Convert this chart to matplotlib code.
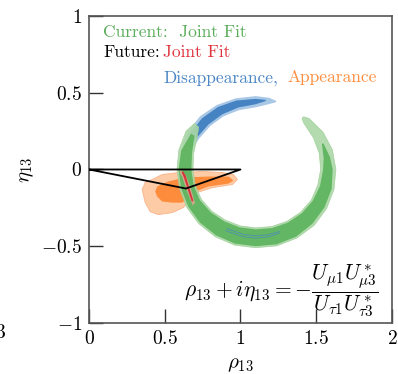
"""
Ring of allowed (rho13, eta13) from the current joint fit, with the
future disappearance / appearance regions and the unitarity triangle.
"""

import numpy as np
import matplotlib
matplotlib.use('Agg')
import matplotlib.pyplot as plt
from matplotlib.patches import Polygon

plt.rcParams['mathtext.fontset'] = 'cm'
plt.rcParams['font.family'] = ['cmr10', 'DejaVu Serif']

# ring geometry (centre of the circle and x stretch)
CX, CY, SX = 1.10, 0.0, 1.06

# current joint fit, light band (angle in degrees, inner / outer radius)
green_lo_ang = [49, 45, 30, 15, 0, -15, -30, -45, -60, -75, -90, -105, -120,
                -135, -150, -165, -180, -195, -210, -218]
green_lo_rin = [0.44, 0.425, 0.415, 0.41, 0.405, 0.40, 0.40, 0.395, 0.39, 0.385,
                0.38, 0.38, 0.38, 0.385, 0.39, 0.39, 0.39, 0.40, 0.42, 0.45]
green_lo_rout = [0.455, 0.47, 0.485, 0.495, 0.50, 0.505, 0.51, 0.515, 0.515, 0.515,
                 0.51, 0.51, 0.505, 0.50, 0.495, 0.49, 0.49, 0.495, 0.50, 0.485]

# current joint fit, dark band
green_hi_ang = [22, 10, 0, -15, -30, -45, -60, -75, -90, -105, -120, -135,
                -150, -165, -180, -195, -210]
green_hi_rin = [0.445, 0.43, 0.42, 0.415, 0.41, 0.405, 0.40, 0.395, 0.39, 0.39,
                0.39, 0.395, 0.40, 0.40, 0.40, 0.41, 0.44]
green_hi_rout = [0.455, 0.47, 0.48, 0.49, 0.495, 0.50, 0.505, 0.505, 0.50, 0.50,
                 0.495, 0.49, 0.485, 0.48, 0.48, 0.48, 0.465]

# future disappearance, light and dark band
blue_lo_ang = [74, 80, 90, 105, 120, 135, 150, 160, 166]
blue_lo_rin = [0.455, 0.43, 0.405, 0.40, 0.40, 0.40, 0.405, 0.415, 0.44]
blue_lo_rout = [0.465, 0.475, 0.478, 0.48, 0.485, 0.49, 0.49, 0.485, 0.46]
blue_hi_ang = [82, 90, 105, 120, 135, 150, 160]
blue_hi_rin = [0.45, 0.425, 0.418, 0.415, 0.415, 0.42, 0.44]
blue_hi_rout = [0.458, 0.46, 0.465, 0.47, 0.472, 0.472, 0.458]

# faint disappearance contours seen through the bottom of the ring
blue_line_ang = [-115, -100, -90, -80, -70]
blue_line_r1 = [0.425, 0.43, 0.432, 0.432, 0.43]
blue_line_r2 = [0.44, 0.445, 0.447, 0.446, 0.44]

# future appearance region (outer and inner contour)
orange_lo_x = [0.391, 0.483, 0.589, 0.748, 0.881, 0.954, 0.980, 0.947, 0.815,
               0.715, 0.669, 0.623, 0.550, 0.457, 0.404, 0.371, 0.351, 0.371]
orange_lo_y = [-0.078, -0.033, -0.020, -0.013, -0.020, -0.033, -0.065, -0.098, -0.118,
               -0.150, -0.196, -0.248, -0.281, -0.294, -0.275, -0.216, -0.131, -0.085]
orange_hi_x = [0.437, 0.450, 0.523, 0.636, 0.788, 0.921, 0.954, 0.921, 0.788,
               0.702, 0.656, 0.616, 0.550, 0.483, 0.450]
orange_hi_y = [-0.144, -0.111, -0.078, -0.052, -0.046, -0.046, -0.072, -0.092, -0.111,
               -0.144, -0.183, -0.216, -0.216, -0.209, -0.176]

# future joint fit
red_lo_x = [0.605, 0.64, 0.675, 0.70, 0.685, 0.65, 0.615, 0.598]
red_lo_y = [0.0, -0.04, -0.13, -0.22, -0.235, -0.15, -0.05, -0.02]
red_hi_x = [0.62, 0.638, 0.662, 0.688, 0.68, 0.655, 0.626, 0.612]
red_hi_y = [-0.01, -0.04, -0.12, -0.20, -0.212, -0.14, -0.05, -0.02]

# unitarity triangle
tri_x = [0.0, 1.0, 0.64, 0.0]
tri_y = [0.0, 0.0, -0.124, 0.0]

yticks = [-1, -0.5, 0, 0.5, 1]
ytick_labels = ['$-1$', '$-0.5$', '$0$', '$0.5$', '$1$']
xticks = [0, 0.5, 1, 1.5, 2]
xtick_labels = ['$0$', '$0.5$', '$1$', '$1.5$', '$2$']


def ring_xy(ang, r):
    t = np.radians(ang)
    return CX + SX * np.asarray(r) * np.cos(t), CY + np.asarray(r) * np.sin(t)


def band(ang, r_in, r_out):
    xo, yo = ring_xy(ang, r_out)
    xi, yi = ring_xy(ang, r_in)
    return np.column_stack([np.r_[xo, xi[::-1]], np.r_[yo, yi[::-1]]])


fig = plt.figure(figsize=(3.98, 3.74), dpi=100)
ax = fig.add_axes([0.2236, 0.1364, 0.7613, 0.8209])

ax.add_patch(Polygon(np.column_stack([orange_lo_x, orange_lo_y]), closed=True,
                     facecolor='#fdcba6', edgecolor='#fbb48a', lw=0.6, zorder=1))
ax.add_patch(Polygon(np.column_stack([orange_hi_x, orange_hi_y]), closed=True,
                     facecolor='#fd8d3c', edgecolor='none', zorder=1.5))

ax.add_patch(Polygon(band(blue_lo_ang, blue_lo_rin, blue_lo_rout), closed=True,
                     facecolor='#a9c8e6', edgecolor='none', zorder=2))
ax.add_patch(Polygon(band(blue_hi_ang, blue_hi_rin, blue_hi_rout), closed=True,
                     facecolor='#4583c3', edgecolor='none', zorder=2.1))

ax.add_patch(Polygon(band(green_lo_ang, green_lo_rin, green_lo_rout), closed=True,
                     facecolor='#acd8a7', edgecolor='#9ccf96', lw=0.5, alpha=0.9, zorder=3))
ax.add_patch(Polygon(band(green_hi_ang, green_hi_rin, green_hi_rout), closed=True,
                     facecolor='#5fb45f', edgecolor='none', alpha=0.95, zorder=3.1))

for r in (blue_line_r1, blue_line_r2):
    bx, by = ring_xy(blue_line_ang, r)
    ax.plot(bx, by, color='#4a86c5', lw=0.6, alpha=0.8, zorder=3.2)

ax.add_patch(Polygon(np.column_stack([red_lo_x, red_lo_y]), closed=True,
                     facecolor='#f2a59a', edgecolor='none', alpha=0.7, zorder=4))
ax.add_patch(Polygon(np.column_stack([red_hi_x, red_hi_y]), closed=True,
                     facecolor='#d9343a', edgecolor='none', zorder=4.1))

ax.plot(tri_x, tri_y, color='black', lw=1.3, zorder=5)

ax.set_xlim(0, 2)
ax.set_ylim(-1, 1)
ax.set_xticks(xticks)
ax.set_xticklabels(xtick_labels)
ax.set_yticks(yticks)
ax.set_yticklabels(ytick_labels)
ax.tick_params(direction='in', length=10, width=1, labelsize=14, pad=5,
               top=False, right=False, colors='#333333', labelcolor='black')
for sp in ax.spines.values():
    sp.set_color('#555555')
    sp.set_linewidth(1.2)

ax.set_xlabel(r'$\rho_{13}$', fontsize=15, labelpad=6)
ax.set_ylabel(r'$\eta_{13}$', fontsize=15)
ax.yaxis.set_label_coords(-0.175, 0.5)

ax.text(0.093, 0.863, 'Current:  Joint Fit', color='#5aae5a', fontsize=12.5)
ax.text(0.093, 0.732, 'Future:', color='black', fontsize=12.5)
ax.text(0.49, 0.732, 'Joint Fit', color='#e0323c', fontsize=12.5)
ax.text(0.49, 0.569, 'Disappearance,', color='#4a86c5', fontsize=12.5)
ax.text(1.31, 0.569, 'Appearance', color='#fd8d3c', fontsize=12.5)

ax.text(1.27, -0.79,
        r'$\rho_{13} + i\eta_{13} = -\dfrac{U_{\mu1}U^*_{\mu3}}{U_{\tau1}U^*_{\tau3}}$',
        fontsize=15.5, ha='center', va='center')

fig.text(-0.012, 0.11, '$3$', fontsize=14, ha='left', va='center')

fig.savefig('out.png', dpi=100)
